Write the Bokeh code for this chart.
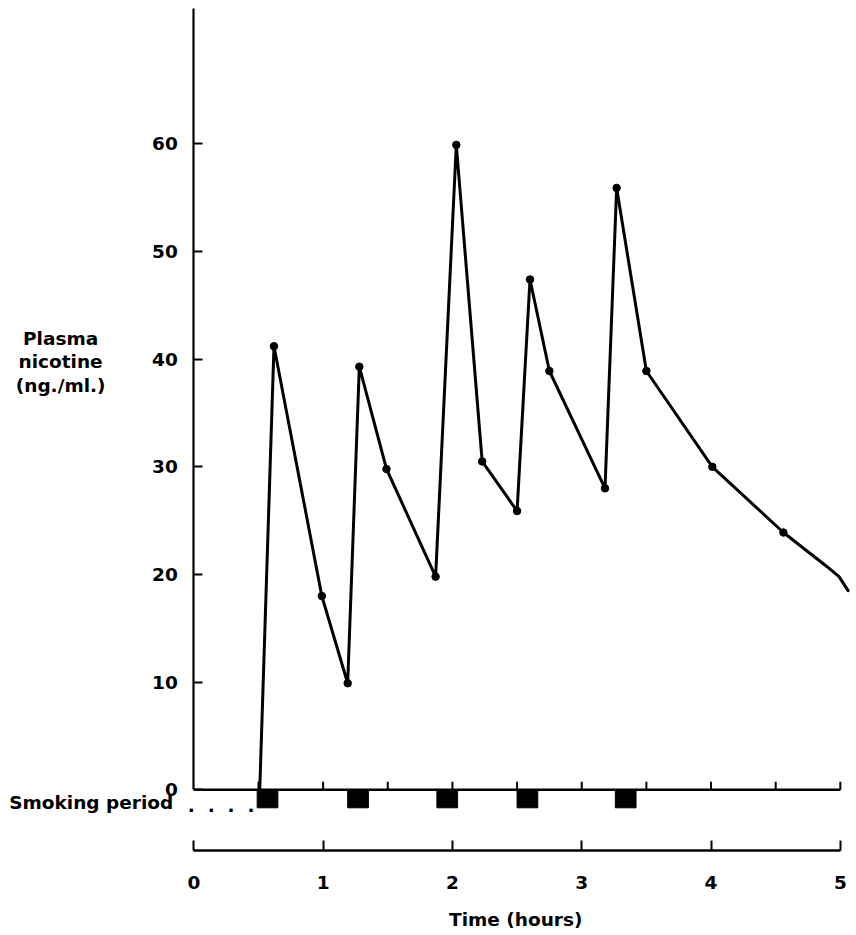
from bokeh.plotting import figure
from bokeh.models import Range1d, FixedTicker, Label
from bokeh.embed import file_html
from bokeh.resources import INLINE

# ---- data ----
onset_time = [0.51]
onset_nicotine = [0.0]
sample_times = [0.62, 0.99, 1.19, 1.28, 1.49, 1.87, 2.03, 2.23, 2.50, 2.60,
                2.75, 3.18, 3.27, 3.50, 4.01, 4.56]
sample_nicotine = [41.2, 18.0, 9.9, 39.3, 29.8, 19.8, 59.9, 30.5, 25.9, 47.4,
                   38.9, 28.0, 55.9, 38.9, 30.0, 23.9]
tail_times = [4.90, 4.99, 5.06]
tail_nicotine = [20.7, 19.8, 18.5]

smoking_start = [0.49, 1.19, 1.88, 2.50, 3.26]
smoking_end = [0.65, 1.35, 2.04, 2.66, 3.42]

y_ticks = [0, 10, 20, 30, 40, 50, 60]
x_ticks = [0, 1, 2, 3, 4, 5]
half_hour_ticks = [0.5, 1.0, 1.5, 2.0, 2.5, 3.0, 3.5, 4.0, 4.5, 5.0]

FONT = "DejaVu Sans"
FS = "18.5px"
TIME_AXIS_Y = -5.638   # level of the lower time axis (below the zero line)

p = figure(width=856, height=935, output_backend="svg", toolbar_location=None,
           x_range=Range1d(-1.495, 5.125), y_range=Range1d(-13.53, 73.31),
           min_border=0, min_border_left=0, min_border_right=0,
           min_border_top=0, min_border_bottom=0)
p.outline_line_color = None
p.xgrid.visible = False
p.ygrid.visible = False
p.background_fill_color = "white"
p.border_fill_color = "white"

# y axis, drawn at x = 0
ya = p.yaxis[0]
ya.fixed_location = 0
ya.ticker = FixedTicker(ticks=y_ticks)
ya.bounds = (0, 72.53)
ya.axis_line_width = 2.2
ya.axis_line_color = "black"
ya.major_tick_in = 9
ya.major_tick_out = 0
ya.major_tick_line_width = 2
ya.major_tick_line_color = "black"
ya.minor_tick_line_color = None
ya.major_label_standoff = 16
ya.major_label_text_font = FONT
ya.major_label_text_font_style = "bold"
ya.major_label_text_font_size = FS
ya.major_label_text_color = "black"

# lower time axis
xa = p.xaxis[0]
xa.fixed_location = TIME_AXIS_Y
xa.ticker = FixedTicker(ticks=x_ticks)
xa.bounds = (0, 5)
xa.axis_line_width = 2.5
xa.axis_line_color = "black"
xa.major_tick_in = 10
xa.major_tick_out = 0
xa.major_tick_line_width = 2
xa.major_tick_line_color = "black"
xa.minor_tick_line_color = None
xa.major_label_standoff = 25
xa.major_label_text_font = FONT
xa.major_label_text_font_style = "bold"
xa.major_label_text_font_size = FS
xa.major_label_text_color = "black"

# zero line with half-hour ticks
p.segment(x0=[0], y0=[0], x1=[5], y1=[0], line_color="black", line_width=2.5)
p.segment(x0=half_hour_ticks, y0=[0] * len(half_hour_ticks),
          x1=half_hour_ticks, y1=[0.75] * len(half_hour_ticks),
          line_color="black", line_width=2)

# smoking periods
p.quad(left=smoking_start, right=smoking_end, top=0, bottom=-1.67,
       fill_color="black", line_color="black", line_width=1)

# nicotine curve
line_x = onset_time + sample_times + tail_times
line_y = onset_nicotine + sample_nicotine + tail_nicotine
p.line(line_x, line_y, line_color="black", line_width=3, line_join="round",
       line_cap="round")
p.scatter(sample_times, sample_nicotine, marker="circle", size=7.5,
          fill_color="black", line_color="black")

# text labels
def lab(x, y, text, align, baseline, lh=1.2):
    return Label(x=x, y=y, text=text, text_align=align, text_baseline=baseline,
                 text_font=FONT, text_font_style="bold", text_font_size=FS,
                 text_color="black", text_line_height=lh)

p.add_layout(lab(-1.03, 39.75, "Plasma\nnicotine\n(ng./ml.)", "center", "middle", 1.12))
p.add_layout(lab(-0.159, -1.2, "Smoking period", "right", "alphabetic"))
p.add_layout(lab(-0.047, -1.44, ".\u00a0\u00a0.\u00a0\u00a0.\u00a0\u00a0.", "left", "alphabetic"))
p.add_layout(lab(2.49, -12.0, "Time (hours)", "center", "alphabetic"))

open("out.html", "w").write(file_html(p, INLINE))
